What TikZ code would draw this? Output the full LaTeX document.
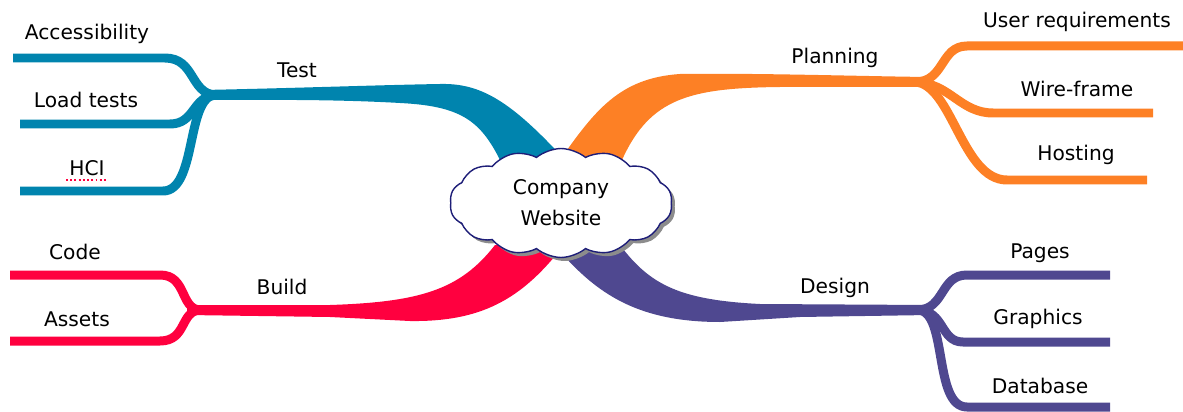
\documentclass[tikz,border=0pt]{standalone}
\usepackage{fontspec}
\setmainfont{DejaVu Sans}
\usetikzlibrary{shapes.symbols,shadows}
\definecolor{cTest}{HTML}{0084AE}
\definecolor{cPlan}{HTML}{FD8025}
\definecolor{cBuild}{HTML}{FF003F}
\definecolor{cDesign}{HTML}{4F4890}
\definecolor{cCloud}{HTML}{1E1E78}
\tikzset{
  lbl/.style={font=\fontsize{11.5pt}{14pt}\selectfont, inner sep=0pt, text=black},
  sub/.style={line width=0.18cm, line cap=butt},
}
\begin{document}
\begin{tikzpicture}[x=0.02cm,y=-0.02cm]
\useasboundingbox (0,0) rectangle (1183,412);

% ---------- Test (teal) ----------
\fill[cTest] (203,90) .. controls (300,88) and (380,85) .. (440,84) .. controls (480,83) and (510,100) .. (565,160)
  -- (500,160) .. controls (480,120) and (460,106) .. (400,103) .. controls (330,99) and (260,100) .. (203,100) -- cycle;
\coordinate (jT) at (215,95);
\draw[sub,cTest] (13,58) -- (165,58) .. controls (195,58) and (190,93) .. (jT);
\draw[sub,cTest] (20,124) -- (170,124) .. controls (195,124) and (192,97) .. (jT);
\draw[sub,cTest] (20,191) -- (163,191) .. controls (197,191) and (186,97) .. (jT);

% ---------- Planning (orange) ----------
\fill[cPlan] (560,160) .. controls (595,110) and (620,78) .. (680,74) .. controls (760,73) and (850,76) .. (927,77)
  -- (927,87) -- (780,87) .. controls (690,88) and (650,98) .. (622,160) -- cycle;
\coordinate (jP) at (915,82);
\draw[sub,cPlan] (1183,46) -- (967,46) .. controls (940,46) and (945,82) .. (jP);
\draw[sub,cPlan] (1153,113) -- (993,113) .. controls (960,113) and (950,83) .. (jP);
\draw[sub,cPlan] (1147,180) -- (1007,180) .. controls (962,180) and (952,84) .. (jP);

% ---------- Build (red) ----------
\fill[cBuild] (187,305) -- (330,305) .. controls (420,302) and (460,290) .. (495,245)
  -- (560,250) .. controls (520,300) and (480,322) .. (410,321) -- (330,317) -- (187,315) -- cycle;
\coordinate (jB) at (200,310);
\draw[sub,cBuild] (10,275) -- (160,275) .. controls (187,275) and (180,309) .. (jB);
\draw[sub,cBuild] (10,341) -- (160,341) .. controls (187,341) and (180,311) .. (jB);

% ---------- Design (purple) ----------
\fill[cDesign] (620,245) .. controls (650,285) and (680,300) .. (760,304) -- (930,305)
  -- (930,315) -- (800,317) -- (720,322) .. controls (640,322) and (600,295) .. (565,257) -- cycle;
\coordinate (jD) at (918,310);
\draw[sub,cDesign] (1110,275) -- (967,275) .. controls (940,275) and (945,309) .. (jD);
\draw[sub,cDesign] (1110,342) -- (963,342) .. controls (940,342) and (945,311) .. (jD);
\draw[sub,cDesign] (1110,407) -- (967,407) .. controls (933,407) and (948,311) .. (jD);

% ---------- Centre cloud ----------
\node[cloud, cloud puffs=14, cloud puff arc=80, cloud ignores aspect,
      minimum width=4.45cm, minimum height=2.18cm, inner sep=0pt,
      draw=cCloud, line width=0.8pt, fill=white,
      drop shadow={shadow xshift=0.07cm, shadow yshift=-0.07cm, fill=black!45, opacity=1},
      align=center, font=\fontsize{11.5pt}{17.6pt}\selectfont]
  (hub) at (561,203) {Company\\Website};

% ---------- Labels ----------
\node[lbl] (tTest) at (297,70) {Test};
\node[lbl] (tAcc) at (87,34) {Accessibility};
\node[lbl] (tLoad) at (86,100) {Load tests};
\node[lbl] (tHCI) at (87,168) {HCI};
\draw[cBuild, line width=1.1pt, dash pattern=on 1.1pt off 1.3pt] (66,180) -- (108,180);

\node[lbl] (tPlan) at (835,58) {Planning};
\node[lbl] (tUser) at (1077,22) {User requirements};
\node[lbl] (tWire) at (1077,89) {Wire-frame};
\node[lbl] (tHost) at (1076,155) {Hosting};

\node[lbl] (tBuild) at (282,287) {Build};
\node[lbl] (tCode) at (75,252) {Code};
\node[lbl] (tAssets) at (77,319) {Assets};

\node[lbl] (tDesign) at (835,288) {Design};
\node[lbl] (tPages) at (1040,253) {Pages};
\node[lbl] (tGraph) at (1038,319) {Graphics};
\node[lbl] (tDB) at (1040,386) {Database};
\end{tikzpicture}
\end{document}
